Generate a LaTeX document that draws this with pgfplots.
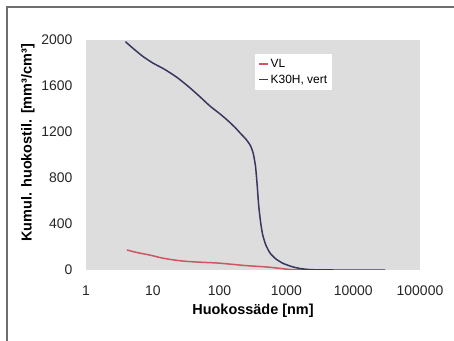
\documentclass[border=0pt]{standalone}
\usepackage{fontspec}
\setmainfont{Liberation Sans}
\usepackage{pgfplots}
\pgfplotsset{compat=1.18}
\definecolor{bgray}{RGB}{221,221,221}
\definecolor{cblue}{RGB}{55,55,95}
\definecolor{cred}{RGB}{205,85,100}
\definecolor{frame}{RGB}{110,110,110}
\begin{document}
\begin{tikzpicture}
\path[use as bounding box] (0,0) rectangle (454bp,341bp);
\draw[frame, line width=1.6bp] (7bp,0) -- (7bp,334bp) -- (454bp,334bp);
\begin{axis}[
  at={(86bp,71bp)}, anchor=south west,
  scale only axis, width=334bp, height=230bp,
  xmode=log, xmin=1, xmax=100000,
  ymin=0, ymax=2000,
  xtick={1,10,100,1000,10000,100000},
  xticklabels={1,10,100,1000,10000,100000},
  ytick={0,400,800,1200,1600,2000},
  yticklabels={0,400,800,1200,1600,2000},
  axis background/.style={fill=bgray},
  axis line style={draw=none},
  tick style={draw=none},
  tick label style={font=\fontsize{14}{16}\selectfont, text=black!85},
  xticklabel style={yshift=-12bp},
  yticklabel style={xshift=-10bp},
  xlabel={\bfseries Huokossäde [nm]},
  ylabel={\bfseries Kumul. huokostil. [mm³/cm³]},
  label style={font=\fontsize{14.5}{16}\selectfont},
  xlabel style={yshift=-2bp},
  ylabel style={yshift=0bp, xshift=12bp},
  legend style={at={(0.506,0.94)}, anchor=north west, draw=none, fill=white,
    font=\fontsize{12}{14}\selectfont, inner sep=3bp, row sep=2bp},
  legend cell align=left,
  legend image code/.code={\draw[#1] (0bp,0bp) -- (9bp,0bp);},
]
\addplot[cred, line width=1.5bp, smooth] coordinates {
(4.1,174) (6,150) (9,130) (15,100) (28,78) (50,68) (91,61) (150,50) (250,38)
(512,26) (800,14) (1100,5) (1600,1) (2200,0)
};
\addlegendentry{VL}
\addplot[cblue, line width=1.5bp, smooth, tension=0.4] coordinates {
(3.9,1985) (5,1930) (7,1860) (10,1800) (15,1745) (23,1675) (35,1590) (50,1510)
(72,1425) (100,1360) (130,1304) (170,1240) (200,1195) (250,1135) (290,1080)
(320,1010) (345,900) (365,740) (385,560) (410,420) (440,310) (490,220)
(568,148) (700,95) (889,58) (1200,30) (1600,13) (2200,4) (3000,1) (5000,0) (30000,0)
};
\addlegendentry{K30H, vert}
\end{axis}
\end{tikzpicture}
\end{document}
